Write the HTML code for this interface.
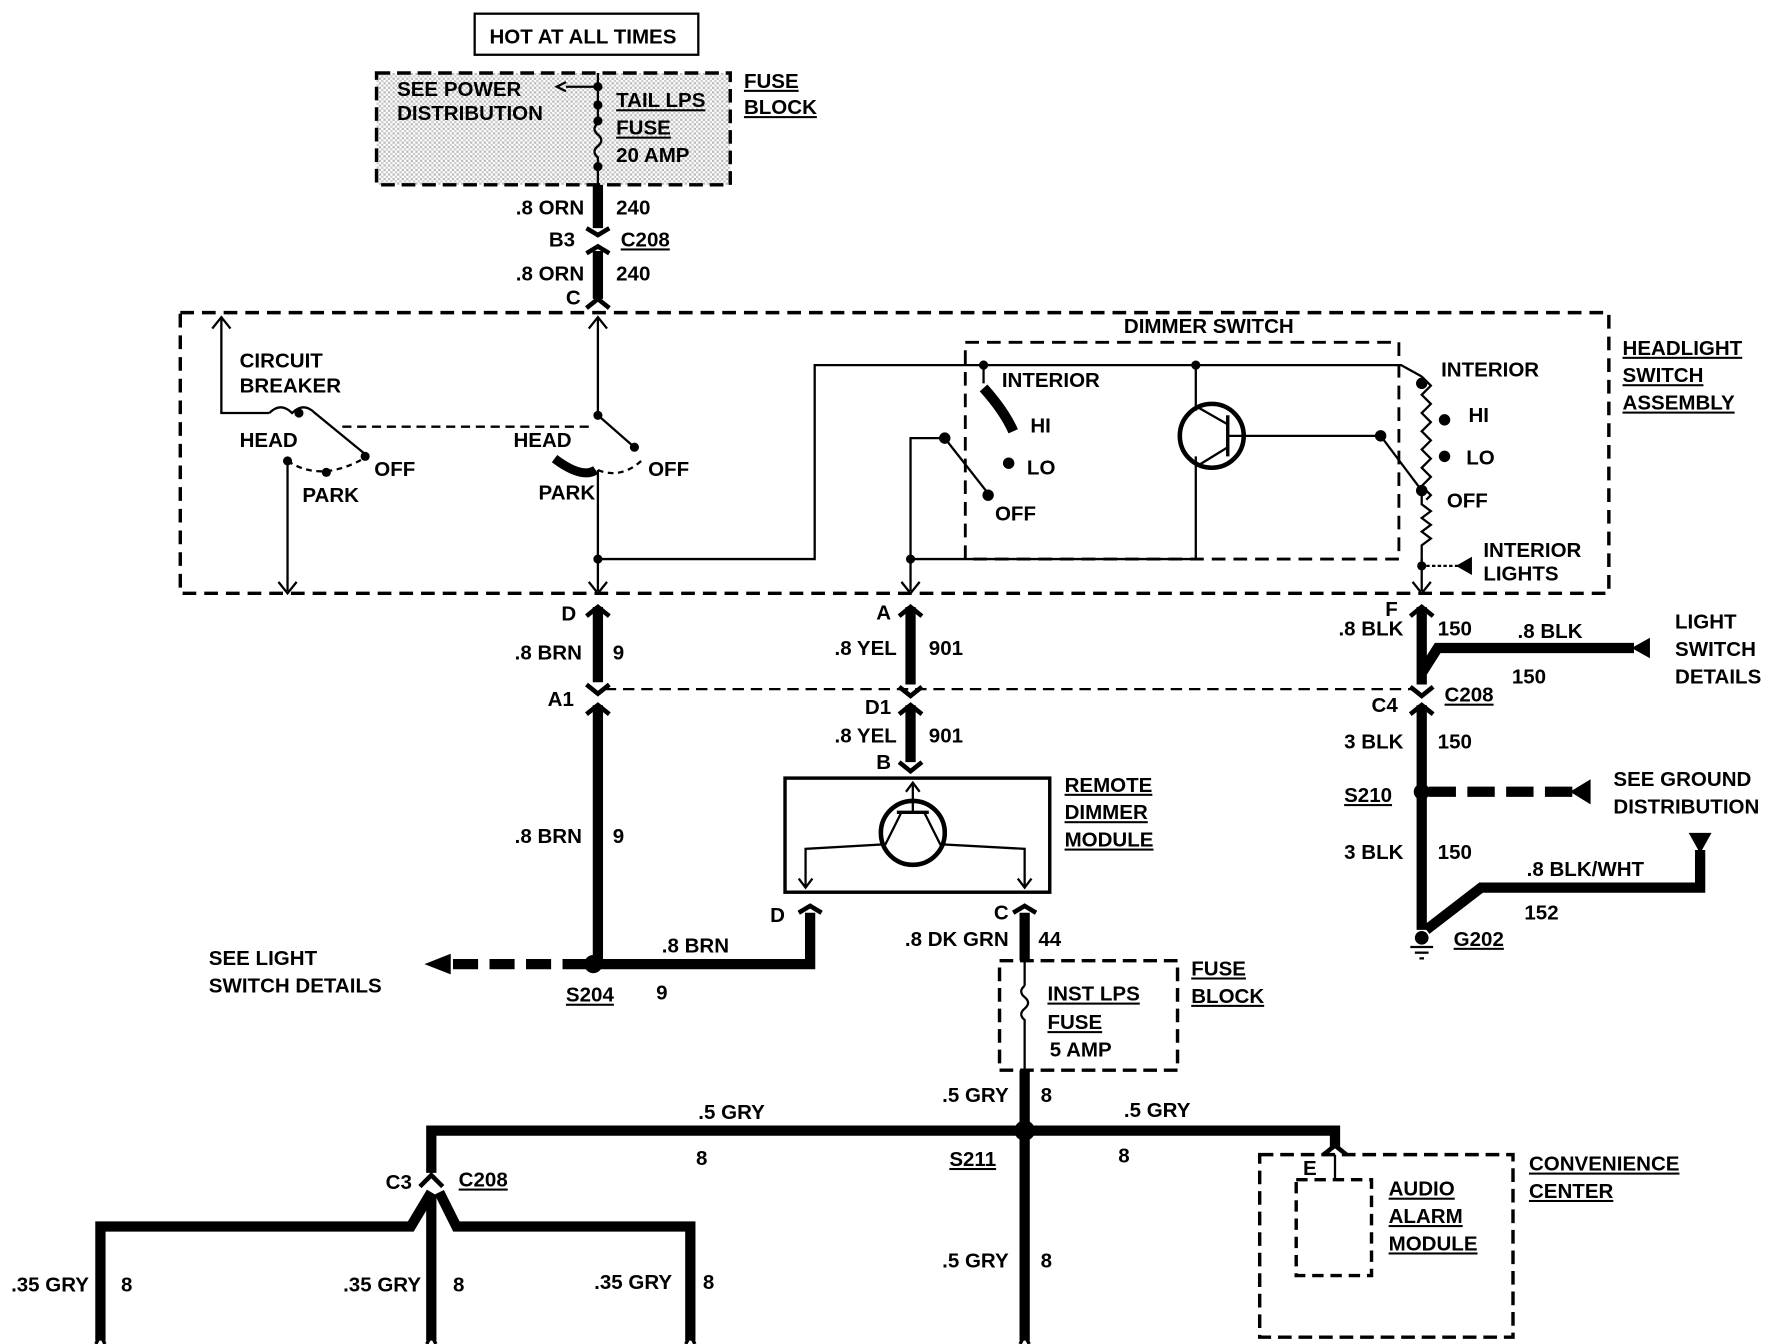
<!DOCTYPE html>
<html><head><meta charset="utf-8"><style>
html,body{margin:0;padding:0;background:#fff;}
svg{display:block;}
text{font-family:"Liberation Sans",sans-serif;font-weight:bold;font-size:18px;fill:#000;}
</style></head><body>
<svg width="1780" height="1344" viewBox="0 0 1560 1178" preserveAspectRatio="none" xmlns="http://www.w3.org/2000/svg">
<defs>
<pattern id="dots" width="4" height="4" patternUnits="userSpaceOnUse"><rect width="4" height="4" fill="#fff"/><rect width="2" height="2" fill="#bbb"/><rect x="2" y="2" width="2" height="2" fill="#ccc"/></pattern>
</defs>
<g fill="none" stroke="#000">
<rect x="416" y="12" width="196" height="36" stroke-width="2"/>
<rect x="330" y="64" width="310" height="98" stroke-width="3" stroke-dasharray="12 6" fill="url(#dots)"/>
<line x1="524" y1="64" x2="524" y2="108" stroke-width="2"/>
<path d="M524 108 q-6 5 0 10 q6 5 0 10 q-6 5 0 10 L524 162" stroke-width="2"/>
<line x1="524" y1="76" x2="496" y2="76" stroke-width="2"/>
<g stroke-width="9">
<line x1="524" y1="162" x2="524" y2="200"/><line x1="524" y1="220" x2="524" y2="262"/>
<line x1="524" y1="532" x2="524" y2="598"/><line x1="524" y1="618" x2="524" y2="845"/>
<line x1="798" y1="532" x2="798" y2="600"/><line x1="798" y1="618" x2="798" y2="668"/>
<polyline points="524,845 710,845 710,800"/>
<line x1="898" y1="800" x2="898" y2="842"/>
<line x1="898" y1="938" x2="898" y2="1175"/>
<polyline points="378,1028 378,991 1170,991 1170,1006"/>
<polyline points="378,1045 360,1075 88,1075 88,1175"/>
<polyline points="385,1045 400,1075 605,1075 605,1175"/>
<line x1="378" y1="1048" x2="378" y2="1175"/>
<line x1="1246" y1="532" x2="1246" y2="600"/><line x1="1246" y1="618" x2="1246" y2="815"/>
<polyline points="1246,590 1260,568 1432,568"/>
<polyline points="1250,815 1298,778 1490,778 1490,745"/>
</g>
<line x1="515" y1="845" x2="395" y2="845" stroke-width="9" stroke-dasharray="22 10"/>
<line x1="1252" y1="694" x2="1378" y2="694" stroke-width="9" stroke-dasharray="24 10"/>
<g stroke-width="4">
<path d="M514 200 L524 206 L534 200 M514 222 L524 216 L534 222"/>
<path d="M514 270 L524 262"/><path d="M534 270 L524 262"/>
<path d="M514 540 L524 532 L534 540 M514 600 L524 608 L534 600 M514 626 L524 618 L534 626"/>
<path d="M788 540 L798 532 L808 540 M788 602 L798 610 L808 602 M788 626 L798 618 L808 626 M788 668 L798 676 L808 668"/>
<path d="M1236 540 L1246 532 L1256 540 M1236 602 L1246 610 L1256 602 M1236 626 L1246 618 L1256 626"/>
<path d="M700 800 L710 794 L720 800 M888 800 L898 794 L908 800"/>
<path d="M368 1040 L378 1030 L388 1040"/>
<path d="M1160 1012 L1170 1004 L1180 1012"/>
</g>
<line x1="530" y1="604" x2="1240" y2="604" stroke-width="2" stroke-dasharray="10 6"/>
<rect x="158" y="274" width="1252" height="246" stroke-width="3" stroke-dasharray="12 7"/>
<rect x="846" y="300" width="380" height="190" stroke-width="2.5" stroke-dasharray="12 7"/>
<g stroke-width="2">
<polyline points="524,278 524,364 556,392"/>
<polyline points="194,278 194,362 236,362"/>
<path d="M236 362 q10 -10 20 0 q10 -10 20 0 L320 398"/>
<line x1="300" y1="374" x2="520" y2="374" stroke-dasharray="8 5"/>
<path d="M252 404 q30 20 70 -4" stroke-dasharray="5 4"/>
<line x1="252" y1="404" x2="252" y2="518"/>
<line x1="524" y1="412" x2="524" y2="518"/>
<path d="M524 412 q20 8 38 -8" stroke-dasharray="5 4"/>
<polyline points="524,490 714,490 714,320 1228,320 1246,330"/>
<polyline points="798,518 798,384 828,384 864,430"/>
<polyline points="798,490 1048,490 1048,400"/>
<line x1="1048" y1="320" x2="1048" y2="360"/>
<line x1="1090" y1="382" x2="1210" y2="382"/>
<line x1="1210" y1="382" x2="1246" y2="430"/>
<path d="M1246 330 l8 8 -8 8 8 8 -8 8 8 8 -8 8 8 8 -8 8 8 8 -8 8 8 8 -8 8 8 8 -4 4"/>
<path d="M1246 430 l0 12 8 6 -8 6 8 6 -8 6 8 6 -8 6 0 14"/>
<line x1="1246" y1="490" x2="1246" y2="518"/>
<line x1="1250" y1="496" x2="1280" y2="496" stroke-dasharray="3 2"/>
<line x1="862" y1="316" x2="862" y2="336"/>
<circle cx="1062" cy="382" r="28" stroke-width="4"/>
<line x1="1076" y1="364" x2="1076" y2="400" stroke-width="3"/>
<line x1="1076" y1="382" x2="1090" y2="382"/>
<line x1="1076" y1="372" x2="1048" y2="356"/><line x1="1076" y1="392" x2="1050" y2="408"/>
</g>
<path d="M862 340 Q880 360 888 378" stroke-width="9"/>
<path d="M486 402 Q510 420 522 412" stroke-width="8"/>
<g stroke-width="2">
<path d="M186 288 L194 278 L202 288 M516 288 L524 278 L532 288 M244 510 L252 520 L260 510 M516 510 L524 520 L532 510 M790 510 L798 520 L806 510 M1238 510 L1246 520 L1254 510"/>
<path d="M496 72 L488 76 L496 80"/>
</g>
<rect x="688" y="682" width="232" height="100" stroke-width="3"/>
<circle cx="800" cy="730" r="28" stroke-width="4"/>
<g stroke-width="2">
<line x1="800" y1="686" x2="800" y2="712"/><line x1="786" y1="712" x2="814" y2="712" stroke-width="3"/>
<polyline points="790,712 776,740 706,744 706,778"/>
<polyline points="810,712 824,740 898,744 898,778"/>
<path d="M794 694 L800 686 L806 694 M700 770 L706 778 L712 770 M892 770 L898 778 L904 770"/>
</g>
<rect x="876" y="842" width="156" height="96" stroke-width="3" stroke-dasharray="12 6" fill="#fff"/>
<line x1="898" y1="842" x2="898" y2="864" stroke-width="2"/>
<path d="M898 864 q-6 5 0 10 q6 5 0 10 q-6 5 0 10 L898 938" stroke-width="2"/>
<rect x="1104" y="1012" width="222" height="160" stroke-width="3" stroke-dasharray="12 6"/>
<rect x="1136" y="1034" width="66" height="84" stroke-width="3" stroke-dasharray="10 6"/>
<line x1="1170" y1="1012" x2="1170" y2="1034" stroke-width="2"/>
<g stroke-width="2"><line x1="1236" y1="830" x2="1256" y2="830"/><line x1="1240" y1="835" x2="1252" y2="835"/><line x1="1244" y1="840" x2="1248" y2="840"/></g>
<path d="M88 1170 L84 1178 M88 1170 L92 1178 M378 1170 L374 1178 M378 1170 L382 1178 M605 1170 L601 1178 M605 1170 L609 1178 M898 1170 L894 1178 M898 1170 L902 1178" stroke-width="3"/>
</g>
<g fill="#000">
<circle cx="524" cy="76" r="4"/><circle cx="524" cy="92" r="4"/><circle cx="524" cy="106" r="4"/><circle cx="524" cy="146" r="4"/>
<circle cx="262" cy="362" r="4"/><circle cx="286" cy="414" r="4"/><circle cx="320" cy="400" r="4"/><circle cx="252" cy="404" r="4"/>
<circle cx="524" cy="364" r="4"/><circle cx="556" cy="392" r="4"/><circle cx="524" cy="490" r="4"/>
<circle cx="862" cy="320" r="4"/><circle cx="1048" cy="320" r="4"/><circle cx="828" cy="384" r="5"/><circle cx="884" cy="406" r="5"/><circle cx="866" cy="434" r="5"/><circle cx="798" cy="490" r="4"/>
<circle cx="1210" cy="382" r="5"/><circle cx="1246" cy="336" r="5"/><circle cx="1266" cy="368" r="5"/><circle cx="1266" cy="400" r="5"/><circle cx="1246" cy="430" r="5"/><circle cx="1246" cy="496" r="4"/>
<circle cx="520" cy="845" r="8"/><circle cx="898" cy="991" r="9"/><circle cx="1246" cy="694" r="7"/><circle cx="1246" cy="822" r="6"/>
<path d="M395 836 L372 845 L395 854 Z"/>
<path d="M1394 683 L1376 694 L1394 705 Z"/>
<path d="M1446 559 L1430 568 L1446 577 Z"/>
<path d="M1480 730 L1500 730 L1490 748 Z"/>
<path d="M1290 488 L1276 496 L1290 504 Z"/>
</g>
<g>
<text x="429" y="38" font-size="17">HOT AT ALL TIMES</text>
<text x="348" y="84" font-size="16">SEE POWER</text><text x="348" y="105" font-size="16">DISTRIBUTION</text>
<text x="540" y="94" text-decoration="underline">TAIL LPS</text><text x="540" y="118" text-decoration="underline">FUSE</text><text x="540" y="142" font-size="15">20 AMP</text>
<text x="652" y="77" text-decoration="underline">FUSE</text><text x="652" y="100" text-decoration="underline">BLOCK</text>
<text x="512" y="188" text-anchor="end">.8 ORN</text><text x="540" y="188">240</text>
<text x="504" y="216" text-anchor="end">B3</text><text x="544" y="216" text-decoration="underline">C208</text>
<text x="512" y="246" text-anchor="end">.8 ORN</text><text x="540" y="246">240</text>
<text x="496" y="267">C</text>
<text x="985" y="292" font-size="16">DIMMER SWITCH</text>
<text x="1422" y="311" text-decoration="underline">HEADLIGHT</text><text x="1422" y="335" text-decoration="underline">SWITCH</text><text x="1422" y="359" text-decoration="underline">ASSEMBLY</text>
<text x="210" y="322" font-size="16">CIRCUIT</text><text x="210" y="344" font-size="16">BREAKER</text>
<text x="210" y="392" font-size="16">HEAD</text><text x="265" y="440" font-size="16">PARK</text><text x="328" y="417" font-size="16">OFF</text>
<text x="450" y="392" font-size="16">HEAD</text><text x="472" y="438" font-size="16">PARK</text><text x="568" y="417" font-size="16">OFF</text>
<text x="878" y="339" font-size="16">INTERIOR</text><text x="903" y="379" font-size="16">HI</text><text x="900" y="416" font-size="16">LO</text><text x="872" y="456" font-size="16">OFF</text>
<text x="1263" y="330" font-size="16">INTERIOR</text><text x="1287" y="370" font-size="16">HI</text><text x="1285" y="407" font-size="16">LO</text><text x="1268" y="445" font-size="16">OFF</text>
<text x="1300" y="488" font-size="16">INTERIOR</text><text x="1300" y="509" font-size="16">LIGHTS</text>
<text x="492" y="544">D</text><text x="510" y="578" text-anchor="end">.8 BRN</text><text x="537" y="578">9</text>
<text x="480" y="619">A1</text><text x="510" y="739" text-anchor="end">.8 BRN</text><text x="537" y="739">9</text>
<text x="768" y="543">A</text><text x="786" y="574" text-anchor="end">.8 YEL</text><text x="814" y="574">901</text>
<text x="758" y="626">D1</text><text x="786" y="651" text-anchor="end">.8 YEL</text><text x="814" y="651">901</text>
<text x="768" y="674">B</text>
<text x="933" y="694" text-decoration="underline">REMOTE</text><text x="933" y="718" text-decoration="underline">DIMMER</text><text x="933" y="742" text-decoration="underline">MODULE</text>
<text x="675" y="808">D</text><text x="871" y="806">C</text>
<text x="183" y="846">SEE LIGHT</text><text x="183" y="870">SWITCH DETAILS</text>
<text x="580" y="835">.8 BRN</text><text x="575" y="876">9</text><text x="496" y="878" text-decoration="underline">S204</text>
<text x="884" y="829" text-anchor="end">.8 DK GRN</text><text x="910" y="829">44</text>
<text x="918" y="877" text-decoration="underline">INST LPS</text><text x="918" y="902" text-decoration="underline">FUSE</text><text x="920" y="926" font-size="14">5 AMP</text>
<text x="1044" y="855" text-decoration="underline">FUSE</text><text x="1044" y="879" text-decoration="underline">BLOCK</text>
<text x="884" y="966" text-anchor="end">.5 GRY</text><text x="912" y="966">8</text>
<text x="612" y="981">.5 GRY</text><text x="610" y="1021">8</text>
<text x="985" y="979">.5 GRY</text><text x="980" y="1019">8</text>
<text x="832" y="1022" text-decoration="underline">S211</text>
<text x="884" y="1111" text-anchor="end">.5 GRY</text><text x="912" y="1111">8</text>
<text x="338" y="1042">C3</text><text x="402" y="1040" text-decoration="underline">C208</text>
<text x="78" y="1132" text-anchor="end">.35 GRY</text><text x="106" y="1132">8</text>
<text x="369" y="1132" text-anchor="end">.35 GRY</text><text x="397" y="1132">8</text>
<text x="589" y="1130" text-anchor="end">.35 GRY</text><text x="616" y="1130">8</text>
<text x="1142" y="1030" font-size="14">E</text>
<text x="1217" y="1048" text-decoration="underline">AUDIO</text><text x="1217" y="1072" text-decoration="underline">ALARM</text><text x="1217" y="1096" text-decoration="underline">MODULE</text>
<text x="1340" y="1026" text-decoration="underline">CONVENIENCE</text><text x="1340" y="1050" text-decoration="underline">CENTER</text>
<text x="1214" y="540">F</text><text x="1230" y="557" text-anchor="end">.8 BLK</text><text x="1260" y="557">150</text>
<text x="1330" y="559">.8 BLK</text><text x="1325" y="599">150</text>
<text x="1468" y="551">LIGHT</text><text x="1468" y="575">SWITCH</text><text x="1468" y="599">DETAILS</text>
<text x="1202" y="624">C4</text><text x="1266" y="615" text-decoration="underline">C208</text>
<text x="1230" y="656" text-anchor="end">3 BLK</text><text x="1260" y="656">150</text>
<text x="1178" y="703" text-decoration="underline">S210</text>
<text x="1414" y="689">SEE GROUND</text><text x="1414" y="713">DISTRIBUTION</text>
<text x="1230" y="753" text-anchor="end">3 BLK</text><text x="1260" y="753">150</text>
<text x="1338" y="768">.8 BLK/WHT</text><text x="1336" y="806">152</text>
<text x="1274" y="829" text-decoration="underline">G202</text>
</g>
</svg>
</body></html>
